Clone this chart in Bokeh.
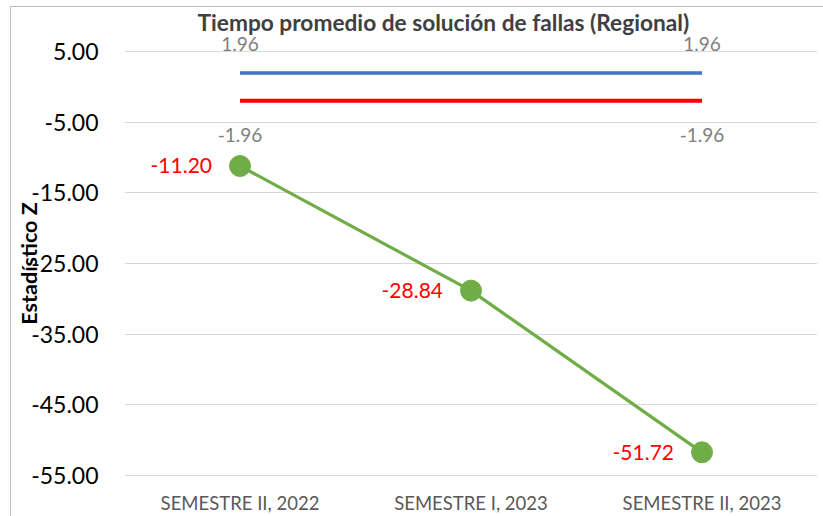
from bokeh.plotting import figure
from bokeh.models import ColumnDataSource, FixedTicker, Range1d, NumeralTickFormatter
from bokeh.core.properties import value
from bokeh.embed import file_html
from bokeh.resources import INLINE

# ---- data ----
categories = ["SEMESTRE II, 2022", "SEMESTRE I, 2023", "SEMESTRE II, 2023"]
z_values = [-11.20, -28.84, -51.72]
upper_limit = [1.96, 1.96, 1.96]
lower_limit = [-1.96, -1.96, -1.96]
y_ticks = [5, -5, -15, -25, -35, -45, -55]
title_text = "Tiempo promedio de solución de fallas (Regional)"
y_title = "Estadístico Z"

FONT = "Lato"
PX_PER_UNIT = 424 / 60.0
PAD = 16 / PX_PER_UNIT  # room above 5 and below -55 inside the frame

p = figure(
    x_range=categories,
    y_range=Range1d(y_ticks[-1] - PAD, y_ticks[0] + PAD),
    width=823, height=516,
    output_backend="svg", toolbar_location=None,
    min_border_left=124, min_border_right=6, min_border_top=35, min_border_bottom=25,
)
p.outline_line_color = None
p.background_fill_color = "white"
p.border_fill_color = None
p.styles = {
    "background": "linear-gradient(#bfbfbf,#bfbfbf) 10px 6px / 1px 100% no-repeat, "
                  "linear-gradient(#bfbfbf,#bfbfbf) 10px 6px / 100% 1px no-repeat, white",
}

# title
p.title.text = title_text
p.title.align = "left"
p.title.offset = 73
p.title.standoff = 0
p.title.text_font = FONT
p.title.text_font_style = "bold"
p.title.text_font_size = "22.7px"
p.title.text_color = "#404040"

# axes
p.yaxis.ticker = FixedTicker(ticks=y_ticks)
p.yaxis.formatter = NumeralTickFormatter(format="0.00")
p.yaxis.axis_line_color = None
p.yaxis.major_tick_line_color = None
p.yaxis.minor_tick_line_color = None
p.yaxis.major_tick_out = 0
p.yaxis.major_tick_in = 0
p.yaxis.major_label_standoff = 26
p.yaxis.major_label_text_font = FONT
p.yaxis.major_label_text_font_size = "23px"
p.yaxis.major_label_text_color = "black"
p.yaxis.axis_label = y_title
p.yaxis.axis_label_standoff = -14
p.yaxis.axis_label_text_font = FONT
p.yaxis.axis_label_text_font_style = "bold"
p.yaxis.axis_label_text_font_size = "21.5px"
p.yaxis.axis_label_text_color = "black"

p.xaxis.axis_line_color = None
p.xaxis.major_tick_line_color = None
p.xaxis.major_tick_out = 0
p.xaxis.major_tick_in = 0
p.xaxis.major_label_standoff = 0
p.xaxis.major_label_text_font = FONT
p.xaxis.major_label_text_font_size = "18.5px"
p.xaxis.major_label_text_color = "#595959"

p.xgrid.grid_line_color = None
p.ygrid.ticker = FixedTicker(ticks=y_ticks)
p.ygrid.grid_line_color = "#d9d9d9"
p.ygrid.grid_line_width = 1

src = ColumnDataSource(dict(
    cat=categories, z=z_values, up=upper_limit, lo=lower_limit,
    z_lbl=[f"{v:.2f}" for v in z_values],
))

# limit lines
p.line("cat", "up", source=src, line_color="#4472C4", line_width=3.5)
p.line("cat", "lo", source=src, line_color="#FF0000", line_width=4)

# Z series
p.line("cat", "z", source=src, line_color="#70AD47", line_width=3.2)
p.scatter("cat", "z", source=src, size=21, fill_color="#70AD47", line_color="#70AD47")

# data labels
p.text("cat", "z", text="z_lbl", source=src, x_offset=-28,
       text_align="right", text_baseline="middle",
       text_font=value(FONT), text_font_size="21px", text_color="#FF0000")

end_idx = [0, len(categories) - 1]
src_end = ColumnDataSource(dict(
    cat=[categories[i] for i in end_idx],
    up=[upper_limit[i] for i in end_idx],
    lo=[lower_limit[i] for i in end_idx],
    up_lbl=[f"{upper_limit[i]:.2f}" for i in end_idx],
    lo_lbl=[f"{lower_limit[i]:.2f}" for i in end_idx],
))
p.text("cat", "up", text="up_lbl", source=src_end, y_offset=-29,
       text_align="center", text_baseline="middle",
       text_font=value(FONT), text_font_size="19px", text_color="#808080")
p.text("cat", "lo", text="lo_lbl", source=src_end, y_offset=34,
       text_align="center", text_baseline="middle",
       text_font=value(FONT), text_font_size="19px", text_color="#808080")

open("out.html", "w").write(file_html(p, INLINE))
